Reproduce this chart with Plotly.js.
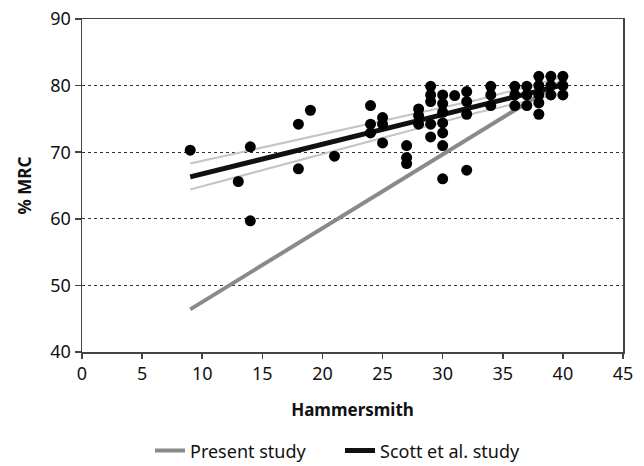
<!DOCTYPE html>
<html>
<head>
<meta charset="utf-8">
<script src="https://cdn.plot.ly/plotly-3.0.1.min.js"></script>
<style>
html,body{margin:0;padding:0;background:#fff;}
#chart{width:644px;height:466px;}
</style>
</head>
<body>
<div id="chart"></div>
<script>
// Measured points (Hammersmith score vs % MRC)
const ptsX = [9, 13, 14, 14, 18, 18, 19, 21,
  24, 24, 24, 25, 25, 25, 27, 27, 27, 28, 28, 28,
  29, 29, 29, 29, 29,
  30, 30, 30, 30, 30, 30, 30,
  31, 32, 32, 32, 32,
  34, 34, 34, 36, 36, 36, 37, 37, 37,
  38, 38, 38, 38, 38, 39, 39, 39, 40, 40, 40];
const ptsY = [70.3, 65.6, 70.8, 59.7, 74.2, 67.5, 76.3, 69.4,
  77.0, 74.2, 72.9, 75.2, 74.2, 71.4, 71.0, 69.2, 68.3, 76.5, 75.5, 74.2,
  79.9, 78.6, 77.6, 74.2, 72.3,
  78.6, 77.3, 76.0, 74.4, 72.9, 71.0, 66.0,
  78.5, 79.1, 77.6, 75.7, 67.3,
  79.9, 78.6, 77.0, 79.9, 78.6, 77.0, 79.9, 78.6, 77.0,
  81.4, 80.0, 78.6, 77.4, 75.7, 81.4, 80.0, 78.6, 81.4, 80.0, 78.6];

// Regression lines
const presentX = [9, 40];
const presentY = [46.4, 80.75];
const scottX = [9, 40];
const scottY = [66.3, 80.1];

// Confidence band of Scott et al. line
const ciX = [9, 15, 22, 28, 33, 40];
const ciUpper = [68.3, 70.7, 73.5, 75.9, 77.9, 81.3];
const ciLower = [64.4, 67.3, 70.8, 73.6, 76.0, 78.9];

const xTicks = [0, 5, 10, 15, 20, 25, 30, 35, 40, 45];
const yTicks = [40, 50, 60, 70, 80, 90];

const FONT = '"Noto Sans", "DejaVu Sans", sans-serif';

const traces = [
  {x: ciX, y: ciUpper, mode: 'lines', line: {color: '#c4c4c4', width: 2}, showlegend: false, hoverinfo: 'skip'},
  {x: ciX, y: ciLower, mode: 'lines', line: {color: '#c4c4c4', width: 2}, showlegend: false, hoverinfo: 'skip'},
  {x: presentX, y: presentY, mode: 'lines', name: 'Present study', line: {color: '#8a8a8a', width: 4}},
  {x: scottX, y: scottY, mode: 'lines', name: 'Scott et al. study', line: {color: '#111', width: 5}},
  {x: ptsX, y: ptsY, mode: 'markers', showlegend: false,
   marker: {color: '#000', size: 11, line: {width: 0}}}
];

const layout = {
  width: 644, height: 466,
  margin: {l: 82, r: 21, t: 19, b: 114, autoexpand: false},
  paper_bgcolor: '#fff', plot_bgcolor: '#fff',
  font: {family: FONT, size: 18, color: '#111'},
  showlegend: true,
  legend: {orientation: 'h', x: 0.1257, xanchor: 'left', y: -0.297, yanchor: 'middle',
    font: {family: FONT, size: 18, color: '#111'}, traceorder: 'normal',
    entrywidth: 145, entrywidthmode: 'pixels', tracegroupgap: 0},
  xaxis: {
    range: [0, 45], tickvals: xTicks, ticktext: xTicks.map(String),
    showline: true, mirror: true, linecolor: '#444', linewidth: 1.5,
    ticks: 'outside', ticklen: 5, tickcolor: '#444', tickwidth: 1.5,
    showgrid: false, zeroline: false, automargin: false,
    tickfont: {family: FONT, size: 18, color: '#111'},
    title: {text: '<b>Hammersmith</b>', font: {family: FONT, size: 17, color: '#111'}, standoff: 20}
  },
  yaxis: {
    range: [40, 90], tickvals: yTicks, ticktext: yTicks.map(String),
    showline: true, mirror: true, linecolor: '#444', linewidth: 1.5,
    ticks: 'outside', ticklen: 6, tickcolor: '#444', tickwidth: 1.5,
    showgrid: true, gridcolor: '#333', gridwidth: 1.2, griddash: '3px,3px',
    zeroline: false, automargin: false,
    tickfont: {family: FONT, size: 18, color: '#111'},
    title: {text: '<b>% MRC</b>', font: {family: FONT, size: 17, color: '#111'}, standoff: 14}
  }
};

Plotly.newPlot('chart', traces, layout, {displayModeBar: false, staticPlot: true});
</script>
</body>
</html>
